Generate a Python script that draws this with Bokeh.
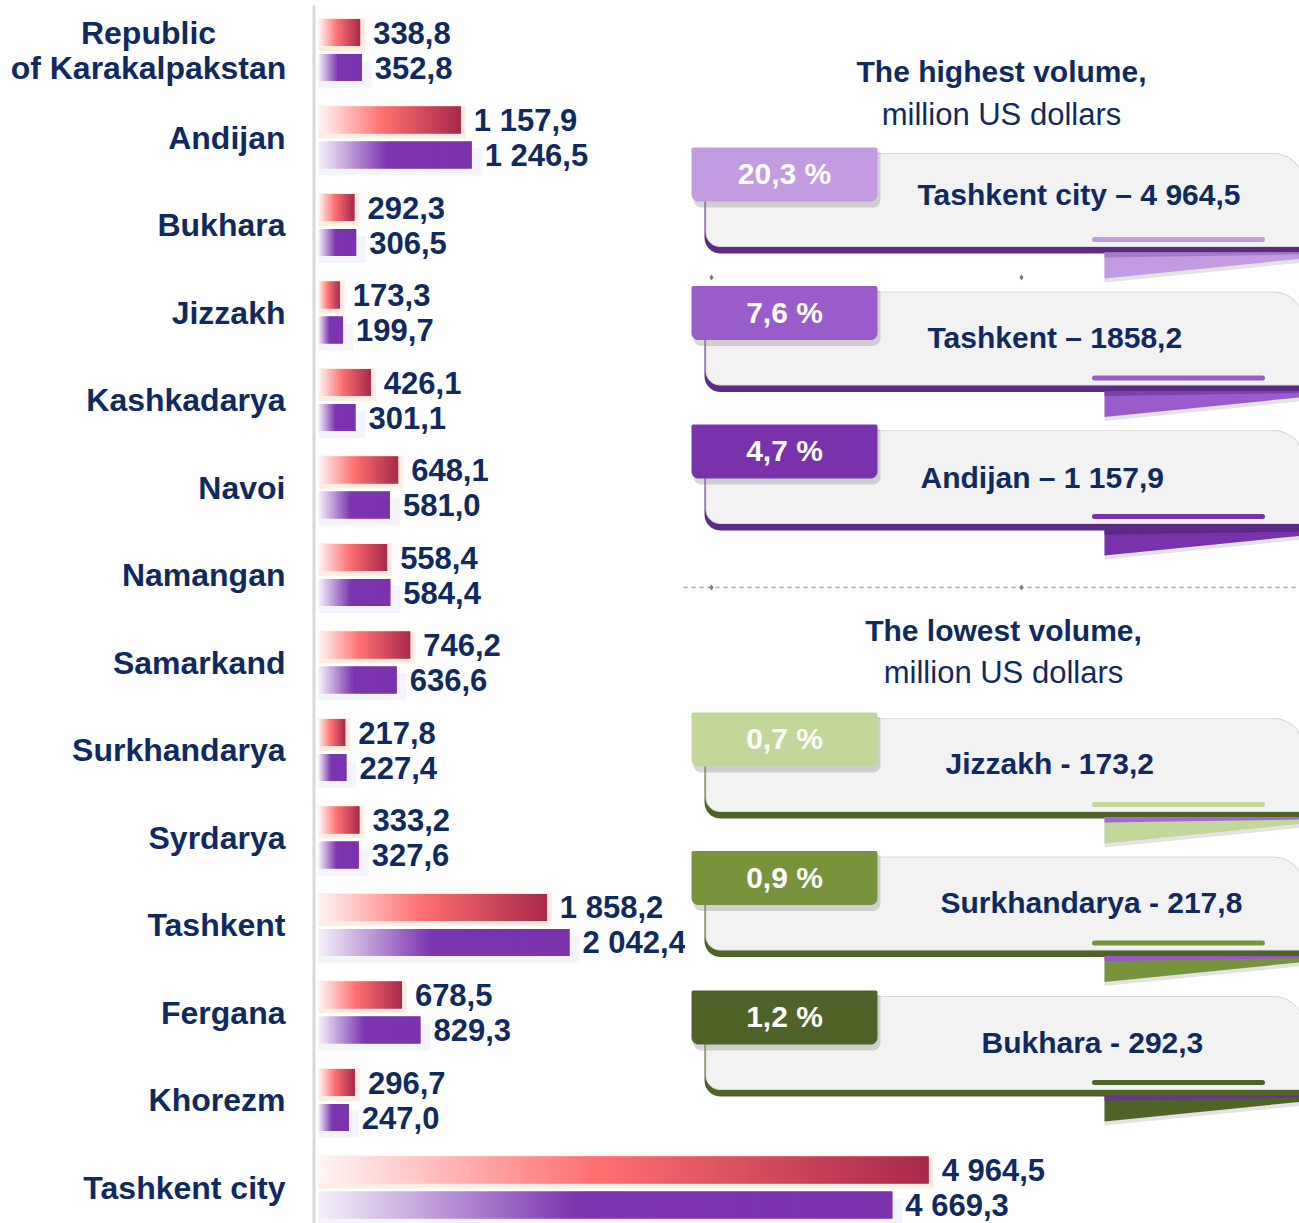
import math
from bokeh.plotting import figure
from bokeh.models import Range1d, ColumnDataSource
from bokeh.embed import file_html
from bokeh.resources import INLINE
from bokeh.core.properties import value

# ---------------- data ----------------
regions = ["Republic of Karakalpakstan", "Andijan", "Bukhara", "Jizzakh", "Kashkadarya",
           "Navoi", "Namangan", "Samarkand", "Surkhandarya", "Syrdarya", "Tashkent",
           "Fergana", "Khorezm", "Tashkent city"]
red_vals = [338.8, 1157.9, 292.3, 173.3, 426.1, 648.1, 558.4, 746.2, 217.8, 333.2,
            1858.2, 678.5, 296.7, 4964.5]
purple_vals = [352.8, 1246.5, 306.5, 199.7, 301.1, 581.0, 584.4, 636.6, 227.4, 327.6,
               2042.4, 829.3, 247.0, 4669.3]

high_title = "The highest volume,"
low_title = "The lowest volume,"
unit_label = "million US dollars"
high_pct = ["20,3 %", "7,6 %", "4,7 %"]
high_labels = ["Tashkent city – 4 964,5", "Tashkent – 1858,2", "Andijan – 1 157,9"]
low_pct = ["0,7 %", "0,9 %", "1,2 %"]
low_labels = ["Jizzakh - 173,2", "Surkhandarya - 217,8", "Bukhara - 292,3"]

# ---------------- layout / style ----------------
W, H = 1299, 1223
K = 0.1229          # px per million USD
X0 = 318            # x of zero
ROW = 87.5          # px per category
ROW0 = 49.5         # y of first category
OFF = 0.2           # offset of each bar from category centre
BAR_H = 27 / ROW
NAVY = "#102a60"
FONT = value("Liberation Sans")

RED_STOPS = [(0.0, "#fff5f5"), (0.45, "#ff7070"), (1.0, "#a8294a")]
PUR_STOPS = [(0.0, "#f5f0fa"), (0.45, "#7b35b0"), (1.0, "#7a33ad")]


def h2r(h):
    h = h.lstrip("#")
    return tuple(int(h[i:i + 2], 16) for i in (0, 2, 4))


def grad(stops, f):
    for (f0, c0), (f1, c1) in zip(stops[:-1], stops[1:]):
        if f <= f1:
            t = (f - f0) / (f1 - f0) if f1 > f0 else 0
            a, b = h2r(c0), h2r(c1)
            return "#%02x%02x%02x" % tuple(int(round(a[k] + (b[k] - a[k]) * t)) for k in range(3))
    return stops[-1][1]


def fmt(v):
    return f"{v:,.1f}".replace(",", " ").replace(".", ",")


p = figure(width=W, height=H, output_backend="svg", toolbar_location=None,
           x_range=Range1d((0 - X0) / K, (W - X0) / K),
           y_range=Range1d((H - ROW0) / ROW, (0 - ROW0) / ROW),
           x_axis_location=None, y_axis_location=None, min_border=0)
p.extra_x_ranges = {"px": Range1d(0, W)}
p.extra_y_ranges = {"px": Range1d(H, 0)}
p.grid.visible = False
p.outline_line_color = None
p.background_fill_color = "white"
p.border_fill_color = "white"

PX = dict(x_range_name="px", y_range_name="px")

# vertical axis line
p.segment(x0=313.5, y0=5, x1=313.5, y1=1240, line_color="#d9d9d9", line_width=3, **PX)

# ---------------- bars ----------------
n_cat = len(regions)
ys_red = [i - OFF for i in range(n_cat)]
ys_pur = [i + OFF for i in range(n_cat)]

# soft glows
p.hbar(y=[y + 7 / ROW for y in ys_pur], left=0,
       right=[v + 10 / K for v in purple_vals], height=BAR_H,
       fill_color="#f2f6fb", line_color=None)
p.hbar(y=[y + 2 / ROW for y in ys_red], left=0,
       right=[v + 5 / K for v in red_vals], height=BAR_H + 6 / ROW,
       fill_color="#fdede3", line_color=None)

# gradient bars: each bar is split into thin slices coloured along the gradient
seg = dict(left=[], right=[], y=[], color=[])
for vals, ys, stops in ((red_vals, ys_red, RED_STOPS), (purple_vals, ys_pur, PUR_STOPS)):
    for v, y in zip(vals, ys):
        n = max(10, int(v * K / 1.5))
        for j in range(n):
            seg["left"].append(v * j / n)
            r = v * (j + 1) / n
            if j < n - 1:
                r += 2.0 / K
            seg["right"].append(min(r, v))
            seg["y"].append(y)
            seg["color"].append(grad(stops, (j + 0.5) / n))
p.hbar(y="y", left="left", right="right", height=BAR_H, fill_color="color",
       line_color=None, source=ColumnDataSource(seg))

# value labels
p.text(x=red_vals, y=ys_red, text=[fmt(v) for v in red_vals], x_offset=13,
       text_align="left", text_baseline="middle", text_font=FONT,
       text_font_style="bold", text_font_size="31px", text_color=NAVY)
p.text(x=purple_vals, y=ys_pur, text=[fmt(v) for v in purple_vals], x_offset=13,
       text_align="left", text_baseline="middle", text_font=FONT,
       text_font_style="bold", text_font_size="31px", text_color=NAVY)

# category labels
first = regions[0].split(" ", 1)
p.text(x=[148, 148], y=[-OFF, OFF], text=first, x_range_name="px",
       text_align="center", text_baseline="middle", text_font=FONT,
       text_font_style="bold", text_font_size="32px", text_color=NAVY)
p.text(x=[285] * (n_cat - 1), y=list(range(1, n_cat)), text=regions[1:], x_range_name="px",
       text_align="right", text_baseline="middle", text_font=FONT,
       text_font_style="bold", text_font_size="32px", text_color=NAVY)

# clip of the label running under the panel area
p.quad(left=684.5, right=691, top=918, bottom=968, fill_color="white", line_color=None, **PX)


# ---------------- panels ----------------
def rr(x0, y0, x1, y1, tl=0, tr=0, br=0, bl=0, n=10):
    xs, ys = [], []
    for (cx, cy, r, a0) in ((x0 + tl, y0 + tl, tl, 180), (x1 - tr, y0 + tr, tr, 270),
                            (x1 - br, y1 - br, br, 0), (x0 + bl, y1 - bl, bl, 90)):
        if r == 0:
            xs.append(cx); ys.append(cy)
        else:
            for k in range(n + 1):
                a = math.radians(a0 + 90 * k / n)
                xs.append(cx + r * math.cos(a)); ys.append(cy + r * math.sin(a))
    return xs, ys


RIGHT = W + 4


def panel(T, tab_col, band_col, strip_col, pct, label, lx, ly):
    # card (band + face)
    xs, ys = rr(704, T + 6, RIGHT, T + 106, tr=30, bl=16)
    p.patch(xs, ys, fill_color=band_col, line_color=None, **PX)
    xs, ys = rr(705.5, T + 6, RIGHT, T + 99, tr=30, bl=14)
    p.patch(xs, ys, fill_color="#f2f2f2", line_color="#dcdcdc", line_width=1, **PX)
    # accent line
    p.segment(x0=1094, y0=T + 92, x1=1262, y1=T + 92, line_color=tab_col,
              line_width=5, line_cap="round", **PX)
    # fold
    p.patch([1104, RIGHT, RIGHT, 1104], [T + 109, T + 109, T + 115, T + 135],
            fill_color="#808080", fill_alpha=0.22, line_color=None, **PX)
    p.patch([1104, RIGHT, RIGHT, 1104], [T + 105, T + 105, T + 111, T + 131],
            fill_color=tab_col, line_color=None, **PX)
    p.patch([1104, RIGHT, RIGHT, 1104], [T + 105, T + 105, T + 107, T + 110],
            fill_color=strip_col, line_color=None, **PX)
    # tab shadow and tab
    xs, ys = rr(693, T + 4, 880, T + 60, tl=3, tr=3, br=8, bl=8)
    p.patch(xs, ys, fill_color="#7f7f7f", fill_alpha=0.3, line_color=None, **PX)
    xs, ys = rr(691, T, 877, T + 54, tl=2, tr=2, br=7, bl=7)
    p.patch(xs, ys, fill_color=tab_col, line_color=None, **PX)
    p.text(x=[784], y=[T + 26], text=[pct], text_align="center", text_baseline="middle",
           text_font=FONT, text_font_style="bold", text_font_size="30px",
           text_color="white", **PX)
    p.text(x=[lx], y=[ly], text=[label], text_align="left", text_baseline="middle",
           text_font=FONT, text_font_style="bold", text_font_size="30px",
           text_color=NAVY, **PX)


high_T = [147, 285.5, 424]
high_tabs = ["#c39be0", "#9a5ccb", "#7832ab"]
high_strips = ["#a57cc9", "#7d3fb5", "#5a2a85"]
high_lx = [917, 927, 920]
high_ly = [194, 337, 477]
for T, c, s, pc, lb, lx, ly in zip(high_T, high_tabs, high_strips, high_pct, high_labels, high_lx, high_ly):
    panel(T, c, "#5c2a84", s, pc, lb, lx, ly)

low_T = [712, 850.5, 990]
low_tabs = ["#c4d79b", "#77933c", "#4f6228"]
low_strips = ["#a466d6", "#9a55d0", "#6b3290"]
low_lx = [945, 940, 981]
low_ly = [763, 902, 1042]
for T, c, s, pc, lb, lx, ly in zip(low_T, low_tabs, low_strips, low_pct, low_labels, low_lx, low_ly):
    panel(T, c, "#4f6228", s, pc, lb, lx, ly)

# headings
for title, yt, ys_, xc in ((high_title, 71, 114, 1001), (low_title, 630, 672, 1003)):
    p.text(x=[xc], y=[yt], text=[title], text_align="center", text_baseline="middle",
           text_font=FONT, text_font_style="bold", text_font_size="30px",
           text_color=NAVY, **PX)
    p.text(x=[xc], y=[ys_], text=[unit_label], text_align="center", text_baseline="middle",
           text_font=FONT, text_font_size="31px", text_color=NAVY, **PX)

# separator
p.segment(x0=683, y0=587, x1=W, y1=587, line_color="#aaaaaa", line_width=1.5,
          line_dash="4 4", **PX)
p.scatter(x=[711, 1021, 711, 1021], y=[587, 587, 277, 277], marker="diamond", size=6,
          fill_color="#777777", line_color=None, **PX)

open("out.html", "w").write(file_html(p, INLINE))
